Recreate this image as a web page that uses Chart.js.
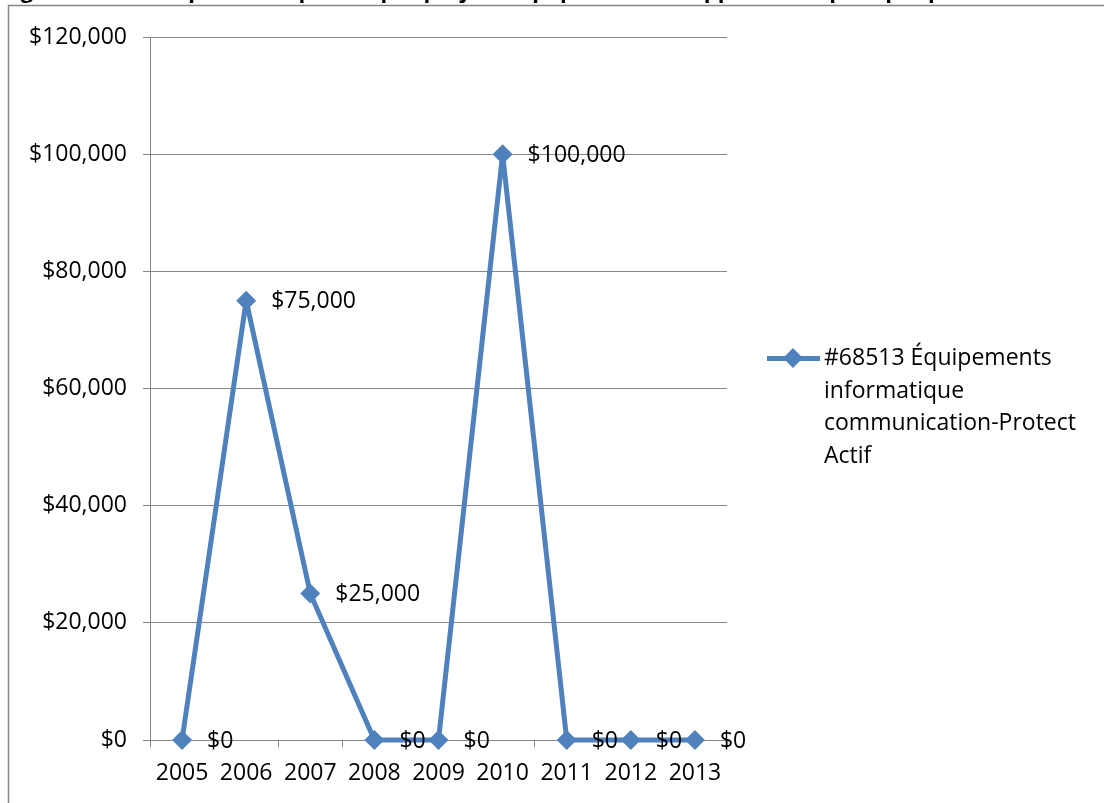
<!DOCTYPE html>
<html>
<head>
<meta charset="utf-8">
<script src="https://cdn.jsdelivr.net/npm/chart.js@4/dist/chart.umd.min.js"></script>
<style>
  html, body { margin: 0; padding: 0; background: #fff; overflow: hidden; }
  #wrap { position: relative; width: 1104px; height: 803px; }
  #legend { position: absolute; left: 767px; top: 340px; font: 23px "Open Sans"; line-height: 32.5px; color: #000; }
  #legend .item { display: flex; align-items: flex-start; }
  #legend .sym { position: relative; width: 57px; height: 32.5px; flex: none; }
  #legend .sym .ln { position: absolute; left: 0; right: 4px; top: 16px; height: 5px; }
  #legend .sym .dm { position: absolute; left: 19px; top: 11px; width: 14px; height: 14px; transform: rotate(45deg); }
  #legend .txt { width: 280px; }
</style>
</head>
<body>
<div id="wrap">
  <canvas id="chart" width="1104" height="803"></canvas>
  <div id="legend"></div>
</div>
<script>
const title = 'Figure 8 : Historique des dépenses par projet – Équipements et apport du capital par priorité'
const years = ['2005', '2006', '2007', '2008', '2009', '2010', '2011', '2012', '2013']
const seriesName = '#68513 Équipements informatique communication-Protect Actif'
const amounts = [0, 75000, 25000, 0, 0, 100000, 0, 0, 0]
const yTicks = [0, 20000, 40000, 60000, 80000, 100000, 120000]

const blue = '#4F81BD'
const axisGray = '#868686'
const font = '"Open Sans", "DejaVu Sans", sans-serif'

const money = v => '$' + v.toLocaleString('en-US')

// border round the chart, and the title clipped at the top edge
const frame = {
  id: 'frame',
  beforeDraw(chart) {
    const { ctx } = chart
    ctx.save()
    ctx.strokeStyle = axisGray
    ctx.lineWidth = 1.5
    ctx.strokeRect(8.5, 5.5, 1200, 900)
    ctx.fillStyle = '#000'
    ctx.font = 'bold 22px ' + font
    ctx.textBaseline = 'alphabetic'
    ctx.fillText(title, 2, -2)
    ctx.restore()
  }
}

// value next to each point
const valueLabels = {
  id: 'valueLabels',
  afterDatasetsDraw(chart) {
    const { ctx } = chart
    ctx.save()
    ctx.font = '23px ' + font
    ctx.fillStyle = '#000'
    ctx.textAlign = 'left'
    ctx.textBaseline = 'middle'
    chart.data.datasets.forEach((ds, i) => {
      chart.getDatasetMeta(i).data.forEach((pt, j) => {
        ctx.fillText(money(ds.data[j]), pt.x + 25, pt.y + 1)
      })
    })
    ctx.restore()
  }
}

const htmlLegend = {
  id: 'htmlLegend',
  afterUpdate(chart) {
    const box = document.getElementById('legend')
    box.innerHTML = ''
    chart.data.datasets.forEach(ds => {
      const item = document.createElement('div')
      item.className = 'item'
      item.innerHTML = '<div class="sym"><div class="ln"></div><div class="dm"></div></div><div class="txt"></div>'
      item.querySelector('.ln').style.background = ds.borderColor
      item.querySelector('.dm').style.background = ds.backgroundColor
      item.querySelector('.txt').textContent = ds.label
      box.appendChild(item)
    })
  }
}

const chart = new Chart(document.getElementById('chart'), {
  type: 'line',
  data: {
    labels: years,
    datasets: [{
      label: seriesName,
      data: amounts,
      borderColor: blue,
      backgroundColor: blue,
      borderWidth: 5,
      borderJoinStyle: 'round',
      tension: 0,
      pointStyle: 'rectRot',
      pointRadius: 10,
      pointBorderWidth: 0,
      clip: false
    }]
  },
  options: {
    responsive: false,
    animation: false,
    layout: { padding: { top: 37, right: 377, bottom: 0, left: 0 } },
    plugins: {
      legend: { display: false },
      tooltip: { enabled: false }
    },
    scales: {
      x: {
        offset: true,
        grid: { offset: true, drawOnChartArea: false, drawTicks: true, tickLength: 7, color: axisGray },
        border: { color: axisGray, width: 1 },
        ticks: { color: '#000', font: { family: font, size: 23 }, padding: 13, maxRotation: 0, autoSkip: false },
        afterFit: s => { s.height = 63 }
      },
      y: {
        min: 0,
        max: 120000,
        afterBuildTicks: s => { s.ticks = yTicks.map(v => ({ value: v })) },
        grid: { color: axisGray, tickLength: 7, lineWidth: 1 },
        border: { color: axisGray, width: 1 },
        ticks: { color: '#000', font: { family: font, size: 23 }, padding: 16, callback: v => money(v) },
        afterFit: s => { s.width = 150 }
      }
    }
  },
  plugins: [frame, valueLabels, htmlLegend]
})
</script>
</body>
</html>
